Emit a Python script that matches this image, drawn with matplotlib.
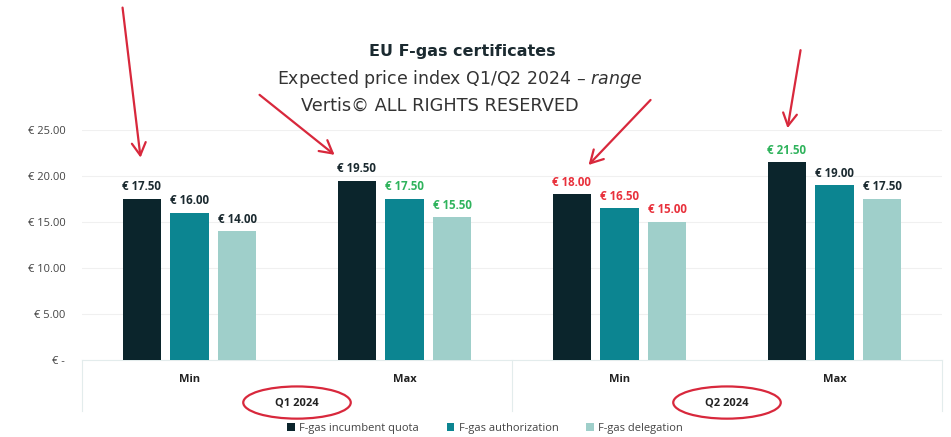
import matplotlib.pyplot as plt
from matplotlib.patches import Ellipse
import numpy as np

plt.rcParams['font.family'] = ['Open Sans', 'DejaVu Sans']

# data
categories = ['Min', 'Max', 'Min', 'Max']
quarters = ['Q1 2024', 'Q2 2024']
series_names = ['F-gas incumbent quota', 'F-gas authorization', 'F-gas delegation']
incumbent = [17.5, 19.5, 18.0, 21.5]
authorization = [16.0, 17.5, 16.5, 19.0]
delegation = [14.0, 15.5, 15.0, 17.5]
# label colour per bar: d = dark, g = green, r = red
label_kind = [['d', 'd', 'd'],
              ['d', 'g', 'g'],
              ['r', 'r', 'r'],
              ['g', 'd', 'd']]
yticks = [0, 5, 10, 15, 20, 25]

bar_colors = ['#0b252c', '#0c8591', '#9fcfca']
label_colors = {'d': '#1b2a30', 'g': '#2fb35c', 'r': '#e8313c'}
red = '#d8283c'

fig = plt.figure(figsize=(9.51, 4.37), dpi=100)
ax = fig.add_axes([82 / 951, 1 - 360 / 437, 860 / 951, 230 / 437])

x = np.arange(len(categories))
step = 0.223
width = 0.177
series = [incumbent, authorization, delegation]
for i, vals in enumerate(series):
    xs = x + (i - 1) * step
    ax.bar(xs, vals, width, color=bar_colors[i], label=series_names[i], zorder=3)
    for j, v in enumerate(vals):
        ax.text(xs[j], v + 0.6, f'€ {v:.2f}', ha='center', va='bottom',
                fontsize=8.3, fontweight='bold', color=label_colors[label_kind[j][i]])

ax.set_xlim(-0.5, 3.5)
ax.set_ylim(0, 25)
ax.set_yticks(yticks)
ax.set_yticklabels(['€ -'] + [f'€ {t:.2f}' for t in yticks[1:]], fontsize=8, color='#444444')
ax.tick_params(axis='y', length=0, pad=12)
ax.set_xticks([])
ax.grid(axis='y', color='#f0f0f0', lw=0.8, zorder=0)
for s in ax.spines.values():
    s.set_visible(False)

# category box under the axis
trans = ax.get_xaxis_transform()
lc = '#e3ecec'
ax.plot([-0.5, 3.5], [0, 0], color=lc, lw=0.8, transform=trans, clip_on=False)
for xv in [-0.5, 1.5, 3.5]:
    ax.plot([xv, xv], [0, -0.22], color=lc, lw=0.8, transform=trans, clip_on=False)
for j, c in enumerate(categories):
    ax.text(x[j], -0.085, c, ha='center', va='center', fontsize=8,
            fontweight='bold', color='#222222', transform=trans)
for k, q in enumerate(quarters):
    qx = 0.5 + 2 * k
    ax.text(qx, -0.185, q, ha='center', va='center', fontsize=8,
            fontweight='bold', color='#222222', transform=trans)
    ax.add_patch(Ellipse((qx, -0.185), 0.5, 0.14, transform=trans, fill=False,
                         edgecolor=red, lw=1.6, clip_on=False))

# titles
tfont = ['DejaVu Sans']
fig.text(0.486, 0.882, 'EU F-gas certificates', ha='center', va='center',
         fontsize=11.5, fontweight='bold', color='#1b2a30', family=tfont)
fig.text(0.483, 0.820, 'Expected price index Q1/Q2 2024 – $\\it{range}$', ha='center',
         va='center', fontsize=12.5, color='#333333', family=tfont)
fig.text(0.462, 0.758, 'Vertis© ALL RIGHTS RESERVED', ha='center', va='center',
         fontsize=12.8, color='#333333', family=tfont)

# red arrows pointing at the incumbent labels: (group, dy above bar, dx in px, tail offset)
arrows = [(0, 4.5, -1, (-18, 150)),
          (1, 2.8, -22, (-75, 60)),
          (2, 3.2, 17, (62, 65)),
          (3, 3.7, 1, (13, 78))]
px_per_unit = 860 / 4
for j, dy, dx_px, off in arrows:
    bx = x[j] - step + dx_px / px_per_unit
    ax.annotate('', xy=(bx, incumbent[j] + dy), xytext=off, textcoords='offset pixels',
                xycoords='data', annotation_clip=False,
                arrowprops=dict(arrowstyle='->,head_length=0.9,head_width=0.5',
                                color=red, lw=1.6, shrinkA=0, shrinkB=0,
                                relpos=(0.5, 0.5)))

fig.legend(loc='center', bbox_to_anchor=(0.51, 0.02), ncol=3, frameon=False,
           fontsize=8, handlelength=0.7, handleheight=0.7, columnspacing=2.5,
           handletextpad=0.4, labelcolor='#444444')

fig.savefig('out.png', dpi=100)
